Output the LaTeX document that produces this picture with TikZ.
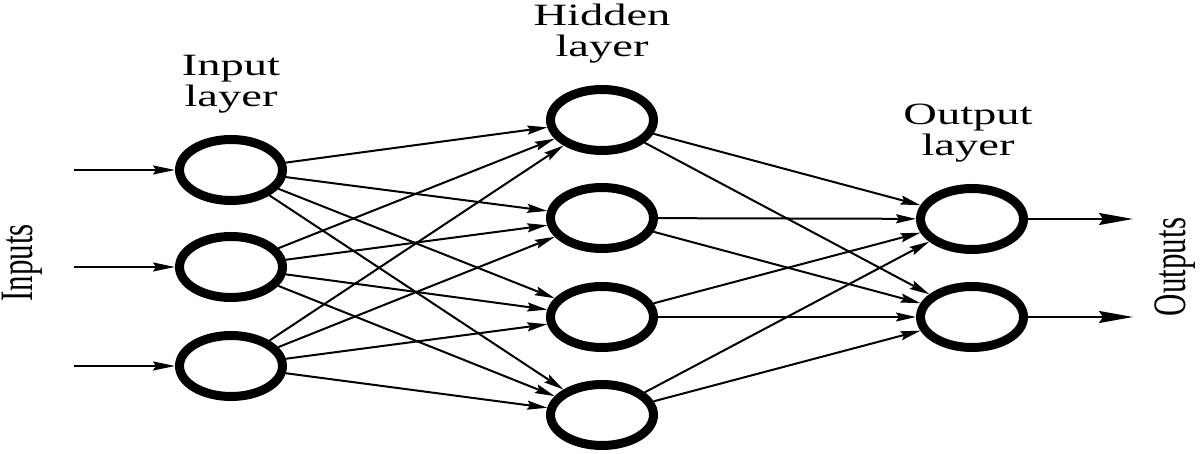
\documentclass[tikz,border=0pt]{standalone}
\usepackage{fontspec}
\setmainfont{Liberation Serif}
\usetikzlibrary{shapes.geometric,arrows.meta}
\begin{document}
\begin{tikzpicture}[x=1pt,y=1pt,
  neuron/.style={draw, ellipse, line width=9pt, minimum width=103pt, minimum height=61pt, inner sep=0pt},
  conn/.style={line width=2pt, -{Stealth[length=20pt,width=9pt,inset=3pt]}},
  inarrow/.style={line width=2pt, -{Stealth[length=22pt,width=9pt,inset=3pt]}},
  outarrow/.style={line width=2pt, -{Stealth[length=34pt,width=12pt,inset=4pt]}},
  lbl/.style={font=\fontsize{31}{31}\selectfont, align=center, xscale=1.5, inner sep=0pt}]
\useasboundingbox (0,0) rectangle (1204,454);
% input layer
\node[neuron] (i1) at (231,284) {};
\node[neuron] (i2) at (231,187) {};
\node[neuron] (i3) at (231,88) {};
% hidden layer
\node[neuron] (h1) at (602,334) {};
\node[neuron] (h2) at (602,236) {};
\node[neuron] (h3) at (602,137) {};
\node[neuron] (h4) at (602,39) {};
% output layer
\node[neuron] (o1) at (972,235) {};
\node[neuron] (o2) at (972,137) {};
% labels
\node[lbl] (lin) at (231,370) {Input\\layer};
\node[lbl] (lhid) at (602,420) {Hidden\\layer};
\node[lbl] (lout) at (968,321) {Output\\layer};
\node[lbl] (linputs) at (22,191) {\rotatebox{90}{Inputs}};
\node[lbl] (loutputs) at (1175,187) {\rotatebox{90}{Outputs}};
% free ends
\coordinate (s1) at (74,284);
\coordinate (s2) at (74,187);
\coordinate (s3) at (74,88);
\coordinate (e1) at (1133,235);
\coordinate (e2) at (1133,137);
% connections
\foreach \s in {1,2,3} \draw[inarrow] (s\s) -- (i\s);
\foreach \a in {1,2,3} \foreach \b in {1,2,3,4} \draw[conn] (i\a) -- (h\b);
\foreach \a in {1,2,3,4} \foreach \b in {1,2} \draw[conn] (h\a) -- (o\b);
\draw[outarrow] (o1) -- (e1);
\draw[outarrow] (o2) -- (e2);
\end{tikzpicture}
\end{document}
